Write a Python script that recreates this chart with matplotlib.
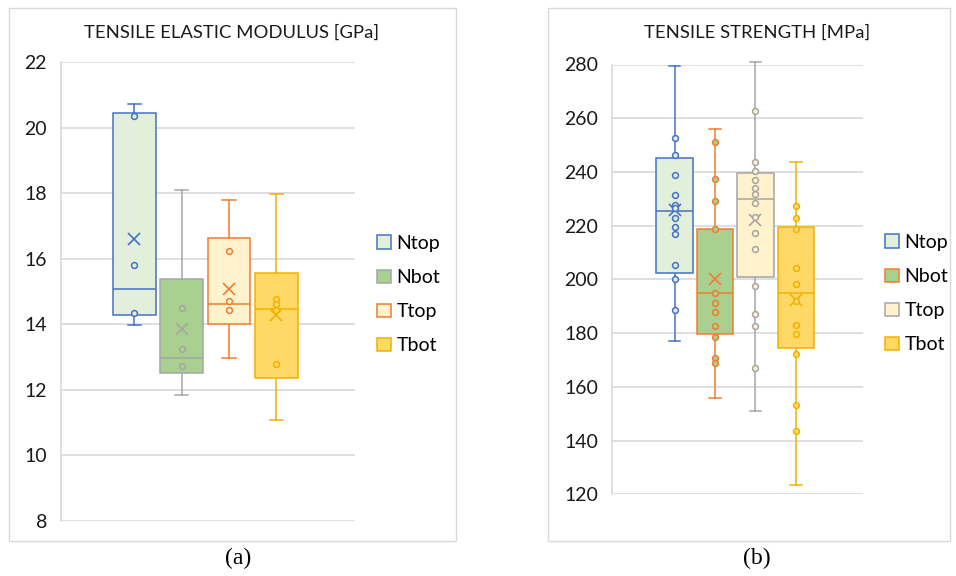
import matplotlib.pyplot as plt
from matplotlib.patches import Rectangle, Patch

plt.rcParams['font.family'] = ['Lato', 'DejaVu Sans']

W, H = 956, 576

series = ['Ntop', 'Nbot', 'Ttop', 'Tbot']
fills = ['#E2EFDA', '#A9D08E', '#FFF2CC', '#FFD966']

# (a) tensile elastic modulus [GPa]
mod_whislo = [13.97, 11.84, 12.96, 11.08]
mod_q1 = [14.27, 12.50, 14.02, 12.36]
mod_med = [15.08, 12.98, 14.63, 14.46]
mod_q3 = [20.44, 15.38, 16.64, 15.56]
mod_whishi = [20.71, 18.09, 17.78, 17.96]
mod_mean = [16.60, 13.85, 15.09, 14.28]
mod_points = [
    [20.35, 15.82, 14.35],
    [14.50, 13.26, 12.72],
    [16.23, 14.72, 14.45],
    [14.76, 14.62, 14.43, 12.80],
]
mod_edges = ['#4472C4', '#A5A5A5', '#ED7D31', '#F2B100']

# (b) tensile strength [MPa]
str_whislo = [177.1, 155.7, 151.1, 123.6]
str_q1 = [202.2, 179.6, 201.0, 174.3]
str_med = [225.4, 195.0, 230.0, 195.0]
str_q3 = [245.1, 218.7, 239.7, 219.4]
str_whishi = [279.6, 256.0, 280.9, 243.7]
str_mean = [225.8, 200.0, 222.1, 192.3]
str_points = [
    [252.7, 246.3, 238.8, 231.5, 227.8, 226.4, 222.9, 219.6, 216.9, 205.3, 200.1, 188.5],
    [251.2, 237.4, 229.2, 218.6, 194.8, 191.1, 187.9, 182.7, 178.4, 170.8, 168.7],
    [262.8, 243.7, 240.5, 237.0, 233.9, 231.8, 228.3, 223.3, 217.4, 211.5, 197.5, 187.3, 182.5, 167.1],
    [227.4, 222.7, 218.8, 204.3, 198.2, 192.0, 182.9, 179.5, 172.3, 153.4, 143.6],
]
str_edges = ['#4472C4', '#ED7D31', '#A5A5A5', '#F2B100']

grid_col = '#D9D9D9'
positions = [0.491 + (i - 1.5) * 0.161 for i in range(4)]


def px(x0, y0, x1, y1):
    # pixel box (top-left origin) -> figure fraction rect
    return [x0 / W, 1 - y1 / H, (x1 - x0) / W, (y1 - y0) / H]


def draw_panel(ax, whislo, q1, med, q3, whishi, mean, points, edges, ylim, yticks):
    stats = []
    for i in range(4):
        stats.append(dict(whislo=whislo[i], q1=q1[i], med=med[i], q3=q3[i],
                          whishi=whishi[i], mean=mean[i], fliers=[]))
    art = ax.bxp(stats, positions=positions, widths=0.145, capwidths=0.045,
                 patch_artist=True, showmeans=True, showfliers=False,
                 manage_ticks=False)
    for i in range(4):
        c = edges[i]
        art['boxes'][i].set(facecolor=fills[i], edgecolor=c, linewidth=1.1, zorder=3)
        art['medians'][i].set(color=c, linewidth=1.1, zorder=4)
        for w in art['whiskers'][2 * i:2 * i + 2]:
            w.set(color=c, linewidth=1.1, zorder=2, clip_on=False)
        for cp in art['caps'][2 * i:2 * i + 2]:
            cp.set(color=c, linewidth=1.1, zorder=2, clip_on=False)
        art['means'][i].set(marker='x', markeredgecolor=c, markersize=8,
                            markeredgewidth=1.2, zorder=5)
        ax.plot([positions[i]] * len(points[i]), points[i], 'o', ms=4.2,
                mfc=fills[i], mec=c, mew=1.1, zorder=5, linestyle='none')
    ax.set_xlim(0, 1)
    ax.set_ylim(*ylim)
    ax.set_yticks(yticks)
    ax.set_xticks([])
    ax.yaxis.grid(True, color=grid_col, linewidth=1.2)
    ax.set_axisbelow(True)
    for s in ['top', 'right', 'bottom']:
        ax.spines[s].set_visible(False)
    ax.spines['left'].set_color(grid_col)
    ax.spines['left'].set_linewidth(1.2)
    ax.tick_params(axis='y', length=0, labelsize=14, pad=10, labelcolor='#1a1a1a')


fig = plt.figure(figsize=(W / 100, H / 100), dpi=100)

# chart frames
for (x0, y0, x1, y1) in [(9, 8, 456, 541), (548, 8, 950, 541)]:
    fig.patches.append(Rectangle((x0 / W, 1 - y1 / H), (x1 - x0) / W, (y1 - y0) / H,
                                 transform=fig.transFigure, fill=False,
                                 edgecolor=grid_col, linewidth=1.0))

ax1 = fig.add_axes(px(61, 62, 355, 521))
draw_panel(ax1, mod_whislo, mod_q1, mod_med, mod_q3, mod_whishi, mod_mean,
           mod_points, mod_edges, (8, 22), range(8, 23, 2))

ax2 = fig.add_axes(px(612, 64.5, 863, 494.3))
draw_panel(ax2, str_whislo, str_q1, str_med, str_q3, str_whishi, str_mean,
           str_points, str_edges, (120, 280), range(120, 281, 20))

fig.text(232 / W, 1 - 33 / H, 'TENSILE ELASTIC MODULUS [GPa]', ha='center',
         va='center', fontsize=13.3, color='#1a1a1a')
fig.text(757 / W, 1 - 33 / H, 'TENSILE STRENGTH [MPa]', ha='center',
         va='center', fontsize=13.3, color='#1a1a1a')

# legends
for edges, (lx, ly) in [(mod_edges, (377, 235)), (str_edges, (885, 234))]:
    handles = [Patch(facecolor=fills[i], edgecolor=edges[i], linewidth=1.1)
               for i in range(4)]
    fig.legend(handles, series, loc='upper left',
               bbox_to_anchor=(lx / W, 1 - ly / H), frameon=False,
               fontsize=14, handlelength=0.7, handleheight=0.7,
               handletextpad=0.3, labelspacing=0.88, borderpad=0,
               borderaxespad=0)

fig.text(238 / W, 1 - 558 / H, '(a)', ha='center', va='center',
         fontsize=17, family='Liberation Serif')
fig.text(757 / W, 1 - 558 / H, '(b)', ha='center', va='center',
         fontsize=17, family='Liberation Serif')

fig.savefig('out.png', dpi=100)
